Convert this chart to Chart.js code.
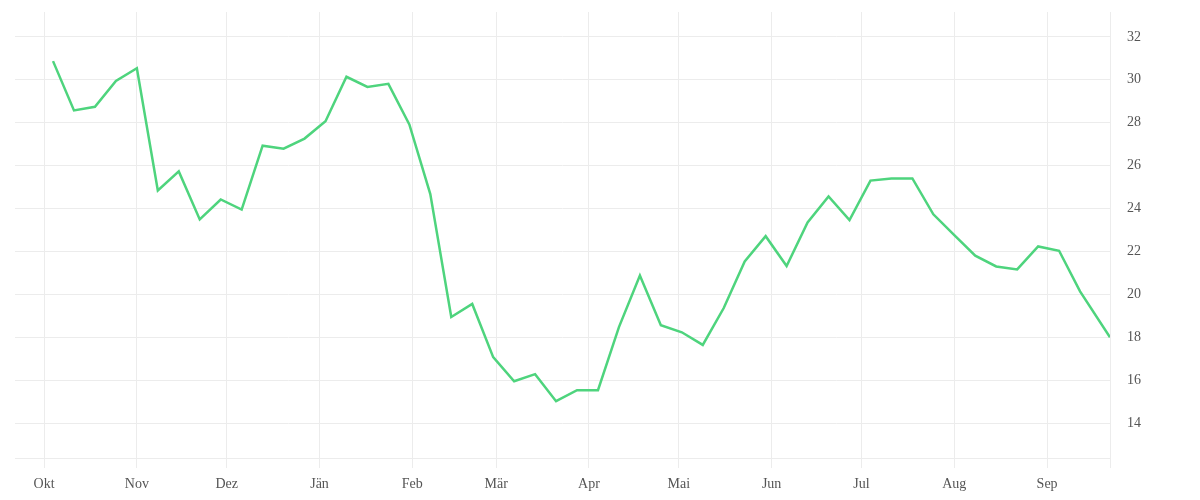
<!DOCTYPE html>
<html>
<head>
<meta charset="utf-8">
<script src="https://cdn.jsdelivr.net/npm/chart.js@4/dist/chart.umd.min.js"></script>
<style>
    html, body { margin: 0; padding: 0; background: #fff; }
    #wrap { width: 1200px; height: 500px; }
</style>
</head>
<body>
<div id="wrap"><canvas id="grafico"></canvas></div>
<script>
// weekly readings
const datas = [
    "2020-10-04", "2020-10-11", "2020-10-18", "2020-10-25", "2020-11-01", "2020-11-08",
    "2020-11-15", "2020-11-22", "2020-11-29", "2020-12-06", "2020-12-13", "2020-12-20",
    "2020-12-27", "2021-01-03", "2021-01-10", "2021-01-17", "2021-01-24", "2021-01-31",
    "2021-02-07", "2021-02-14", "2021-02-21", "2021-02-28", "2021-03-07", "2021-03-14",
    "2021-03-21", "2021-03-28", "2021-04-04", "2021-04-11", "2021-04-18", "2021-04-25",
    "2021-05-02", "2021-05-09", "2021-05-16", "2021-05-23", "2021-05-30", "2021-06-06",
    "2021-06-13", "2021-06-20", "2021-06-27", "2021-07-04", "2021-07-11", "2021-07-18",
    "2021-07-25", "2021-08-01", "2021-08-08", "2021-08-15", "2021-08-22", "2021-08-29",
    "2021-09-05", "2021-09-12", "2021-09-22"
];
const valores = [
    30.87, 28.57, 28.74, 29.95, 30.54, 24.84,
    25.73, 23.49, 24.42, 23.95, 26.93, 26.79,
    27.26, 28.07, 30.14, 29.67, 29.81, 27.92,
    24.67, 18.94, 19.55, 17.07, 15.95, 16.28,
    15.02, 15.53, 15.53, 18.47, 20.88, 18.56,
    18.23, 17.64, 19.36, 21.53, 22.71, 21.32,
    23.35, 24.56, 23.46, 25.30, 25.40, 25.40,
    23.73, 22.76, 21.80, 21.30, 21.16, 22.23,
    22.03, 20.14, 18.00
];
const mesesInicio = [
    "2020-10-01", "2020-11-01", "2020-12-01", "2021-01-01", "2021-02-01", "2021-03-01",
    "2021-04-01", "2021-05-01", "2021-06-01", "2021-07-01", "2021-08-01", "2021-09-01"
];
const mesesNomes = ["Okt", "Nov", "Dez", "Jän", "Feb", "Mär", "Apr", "Mai", "Jun", "Jul", "Aug", "Sep"];
const ticksY = [14, 16, 18, 20, 22, 24, 26, 28, 30, 32];

const DIA = 86400000;
const base = Date.UTC(2020, 9, 1);

function diaDe(texto) {
    const p = texto.split("-").map(Number);
    return (Date.UTC(p[0], p[1] - 1, p[2]) - base) / DIA;
}

const pontos = datas.map(function (d, i) {
    return { x: diaDe(d), y: valores[i] };
});
const posMeses = mesesInicio.map(diaDe);
const xMin = diaDe(datas[datas.length - 1]) - 365.7;
const xMax = diaDe(datas[datas.length - 1]);

const corGrade = "#ececec";
const fonte = { family: "'Liberation Serif', serif", size: 14 };

new Chart(document.getElementById("grafico"), {
    type: "line",
    data: {
        datasets: [{
            data: pontos,
            borderColor: "#4ed47d",
            borderWidth: 2.5,
            pointRadius: 0,
            tension: 0,
            fill: false
        }]
    },
    options: {
        responsive: true,
        maintainAspectRatio: false,
        animation: false,
        layout: { padding: { left: 15, top: 12, right: 0, bottom: 0 } },
        plugins: {
            legend: { display: false },
            tooltip: { enabled: false }
        },
        scales: {
            x: {
                type: "linear",
                min: xMin,
                max: xMax,
                afterBuildTicks: function (eixo) {
                    eixo.ticks = posMeses.map(function (v) { return { value: v }; });
                    eixo.ticks.push({ value: xMax });
                },
                afterFit: function (eixo) { eixo.height = 42; },
                ticks: {
                    autoSkip: false,
                    maxRotation: 0,
                    padding: 8,
                    color: "#555",
                    font: fonte,
                    callback: function (v, i) { return mesesNomes[i] || ""; }
                },
                grid: { color: corGrade, tickLength: 10, lineWidth: 1 },
                border: { color: corGrade }
            },
            y: {
                position: "right",
                min: 12.37,
                max: 33.16,
                afterBuildTicks: function (eixo) {
                    eixo.ticks = ticksY.map(function (v) { return { value: v }; });
                },
                afterFit: function (eixo) {
                    eixo.width = 90;
                    eixo.paddingTop = 0;
                    eixo.paddingBottom = 0;
                },
                ticks: {
                    padding: 17,
                    color: "#555",
                    font: fonte
                },
                grid: { color: corGrade, drawTicks: false },
                border: { display: false }
            }
        }
    }
});
</script>
</body>
</html>
